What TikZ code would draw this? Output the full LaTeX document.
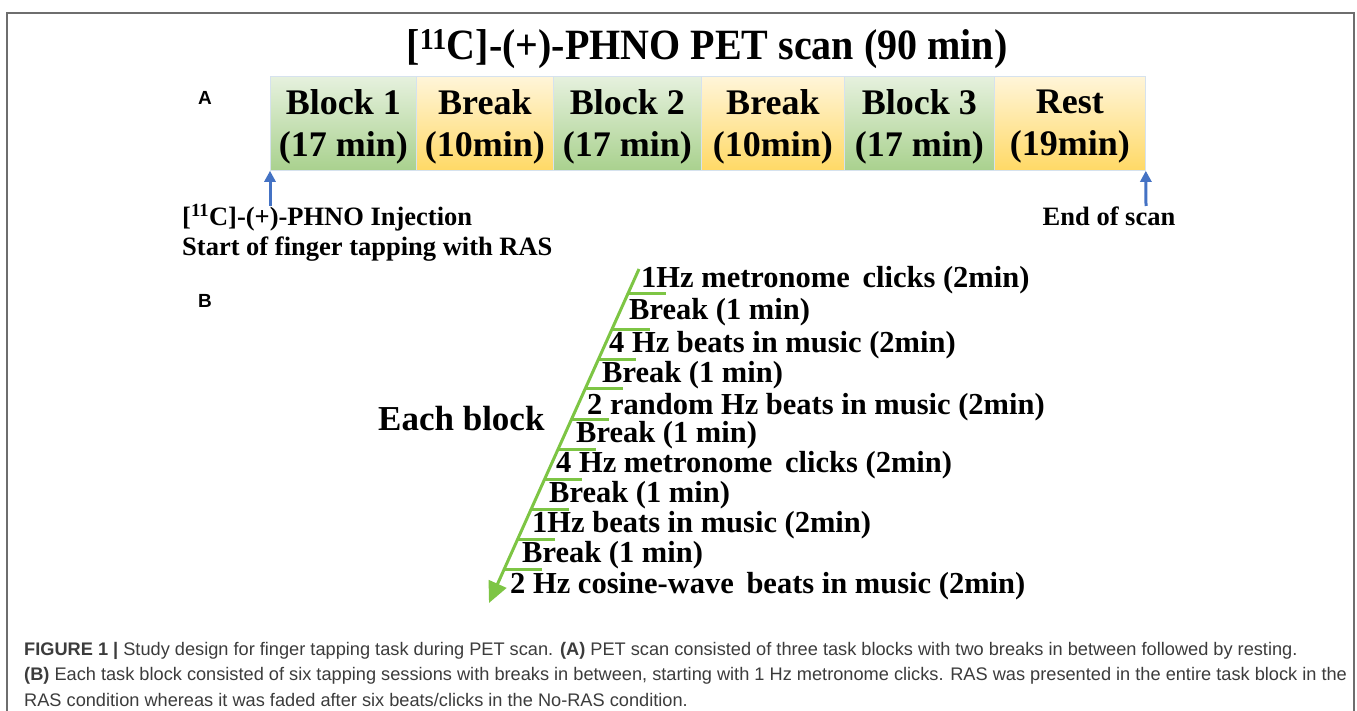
\documentclass[tikz,border=0pt]{standalone}
\usepackage{fontspec}
\setmainfont{Liberation Serif}
\newfontfamily\capfont{Liberation Sans}
\usetikzlibrary{arrows.meta,calc}
\definecolor{framec}{HTML}{6E6E6E}
\definecolor{gtop}{HTML}{E6F1DE}
\definecolor{gbot}{HTML}{A9D18E}
\definecolor{otop}{HTML}{FFF5D9}
\definecolor{obot}{HTML}{FFD966}
\definecolor{cellline}{HTML}{D6E2EE}
\definecolor{arrowblue}{HTML}{4472C4}
\definecolor{tgreen}{HTML}{7DC544}
\definecolor{captext}{HTML}{3C3C3C}
\begin{document}
\begin{tikzpicture}[x=1pt,y=-1pt,
  cell/.style={draw=cellline,line width=0.8pt,minimum height=94pt,inner sep=0pt,anchor=north west},
  celltext/.style={inner sep=0pt,align=center,font=\bfseries\fontsize{36}{42}\selectfont},
  taskcell/.style={cell,top color=gtop,bottom color=gbot},
  pausecell/.style={cell,top color=otop,bottom color=obot},
  lbl/.style={inner sep=0pt,font=\bfseries\fontsize{26.5}{31}\selectfont},
  stepline/.style={inner sep=0pt,anchor=west,font=\bfseries\fontsize{30.5}{30.5}\selectfont},
  panel/.style={inner sep=0pt,font=\capfont\bfseries\fontsize{19}{19}\selectfont},
  captionline/.style={inner sep=0pt,anchor=west,text=captext,font=\capfont\fontsize{18.2}{22}\selectfont},
  bluearrow/.style={draw=arrowblue,line width=3pt,-{Triangle[length=11pt,width=11pt]}},
  greenarrow/.style={draw=tgreen,line width=3pt,-{Triangle[length=21pt,width=19pt]}},
  tickline/.style={draw=tgreen,line width=3pt}
]
\useasboundingbox (0,0) rectangle (1357,711);
\fill[white] (0,0) rectangle (1357,711);
\draw[framec,line width=1.5pt] (7,711) -- (7,13) -- (1354,13) -- (1354,711);

% title
\node[inner sep=0pt,font=\bfseries\fontsize{40}{40}\selectfont] (title) at (707,49) {\scalebox{1}[1.08]{[\textsuperscript{11}C]-(+)-PHNO PET scan (90 min)}};

% panel labels
\node[panel] (labA) at (205,98) {A};
\node[panel] (labB) at (205,301) {B};

% timeline cells
\node[taskcell,minimum width=146pt] (b1) at (270,76) {};
\node[pausecell,minimum width=137pt] (p1) at (416,76) {};
\node[taskcell,minimum width=148pt] (b2) at (553,76) {};
\node[pausecell,minimum width=143pt] (p2) at (701,76) {};
\node[taskcell,minimum width=150pt] (b3) at (844,76) {};
\node[pausecell,minimum width=151pt] (rest) at (994,76) {};
\node[celltext] (b1t) at ([yshift=-3pt]b1.center) {Block 1\\(17 min)};
\node[celltext] (p1t) at ([yshift=-3pt]p1.center) {Break\\(10min)};
\node[celltext] (b2t) at ([yshift=-3pt]b2.center) {Block 2\\(17 min)};
\node[celltext] (p2t) at ([yshift=-3pt]p2.center) {Break\\(10min)};
\node[celltext] (b3t) at ([yshift=-3pt]b3.center) {Block 3\\(17 min)};
\node[celltext] (restt) at ([yshift=-3pt]rest.center) {Rest\\(19min)};

% annotations
\node[lbl,anchor=west] (inj) at (182,218) {[\textsuperscript{11}C]-(+)-PHNO Injection};
\node[lbl,anchor=west] (start) at (182,249) {Start of finger tapping with RAS};
\node[lbl] (endscan) at (1109,216) {End of scan};
\coordinate (injtop) at (270,206);
\coordinate (endtop) at (1146,206);
\draw[bluearrow] (injtop) -- (b1.south west);
\draw[bluearrow] (endtop) -- (rest.south east);

% panel B
\node[inner sep=0pt,anchor=west,font=\bfseries\fontsize{35}{35}\selectfont] (each) at (378,419) {Each block};
\coordinate (gtopc) at (639,269);
\coordinate (gtip) at (489,603);
\draw[greenarrow] (gtopc) -- (gtip);
\foreach \yy in {294,329,359,388,419,449,479,509,539,569}{
  \draw[tickline] ({639-0.4505*(\yy-269)},\yy) -- ++(38,0);
}
\node[stepline] (s1) at (641,280) {1Hz metronome\, clicks (2min)};
\node[stepline] (s2) at (629,312) {Break (1 min)};
\node[stepline] (s3) at (609,345) {4 Hz beats in music (2min)};
\node[stepline] (s4) at (602,375) {Break (1 min)};
\node[stepline] (s5) at (587,407) {2 random Hz beats in music (2min)};
\node[stepline] (s6) at (576,435) {Break (1 min)};
\node[stepline] (s7) at (556,465) {4 Hz metronome\, clicks (2min)};
\node[stepline] (s8) at (549,495) {Break (1 min)};
\node[stepline] (s9) at (532,525) {1Hz beats in music (2min)};
\node[stepline] (s10) at (522,555) {Break (1 min)};
\node[stepline] (s11) at (510,586) {2 Hz cosine-wave\, beats in music (2min)};

% caption
\node[captionline] (cap1) at (24,651) {\textbf{FIGURE 1 |} Study design for finger tapping task during PET scan. \textbf{(A)} PET scan consisted of three task blocks with two breaks in between followed by resting.};
\node[captionline] (cap2) at (24,676) {\textbf{(B)} Each task block consisted of six tapping sessions with breaks in between, starting with 1 Hz metronome clicks. RAS was presented in the entire task block in the};
\node[captionline] (cap3) at (24,700) {RAS condition whereas it was faded after six beats/clicks in the No-RAS condition.};
\end{tikzpicture}
\end{document}
